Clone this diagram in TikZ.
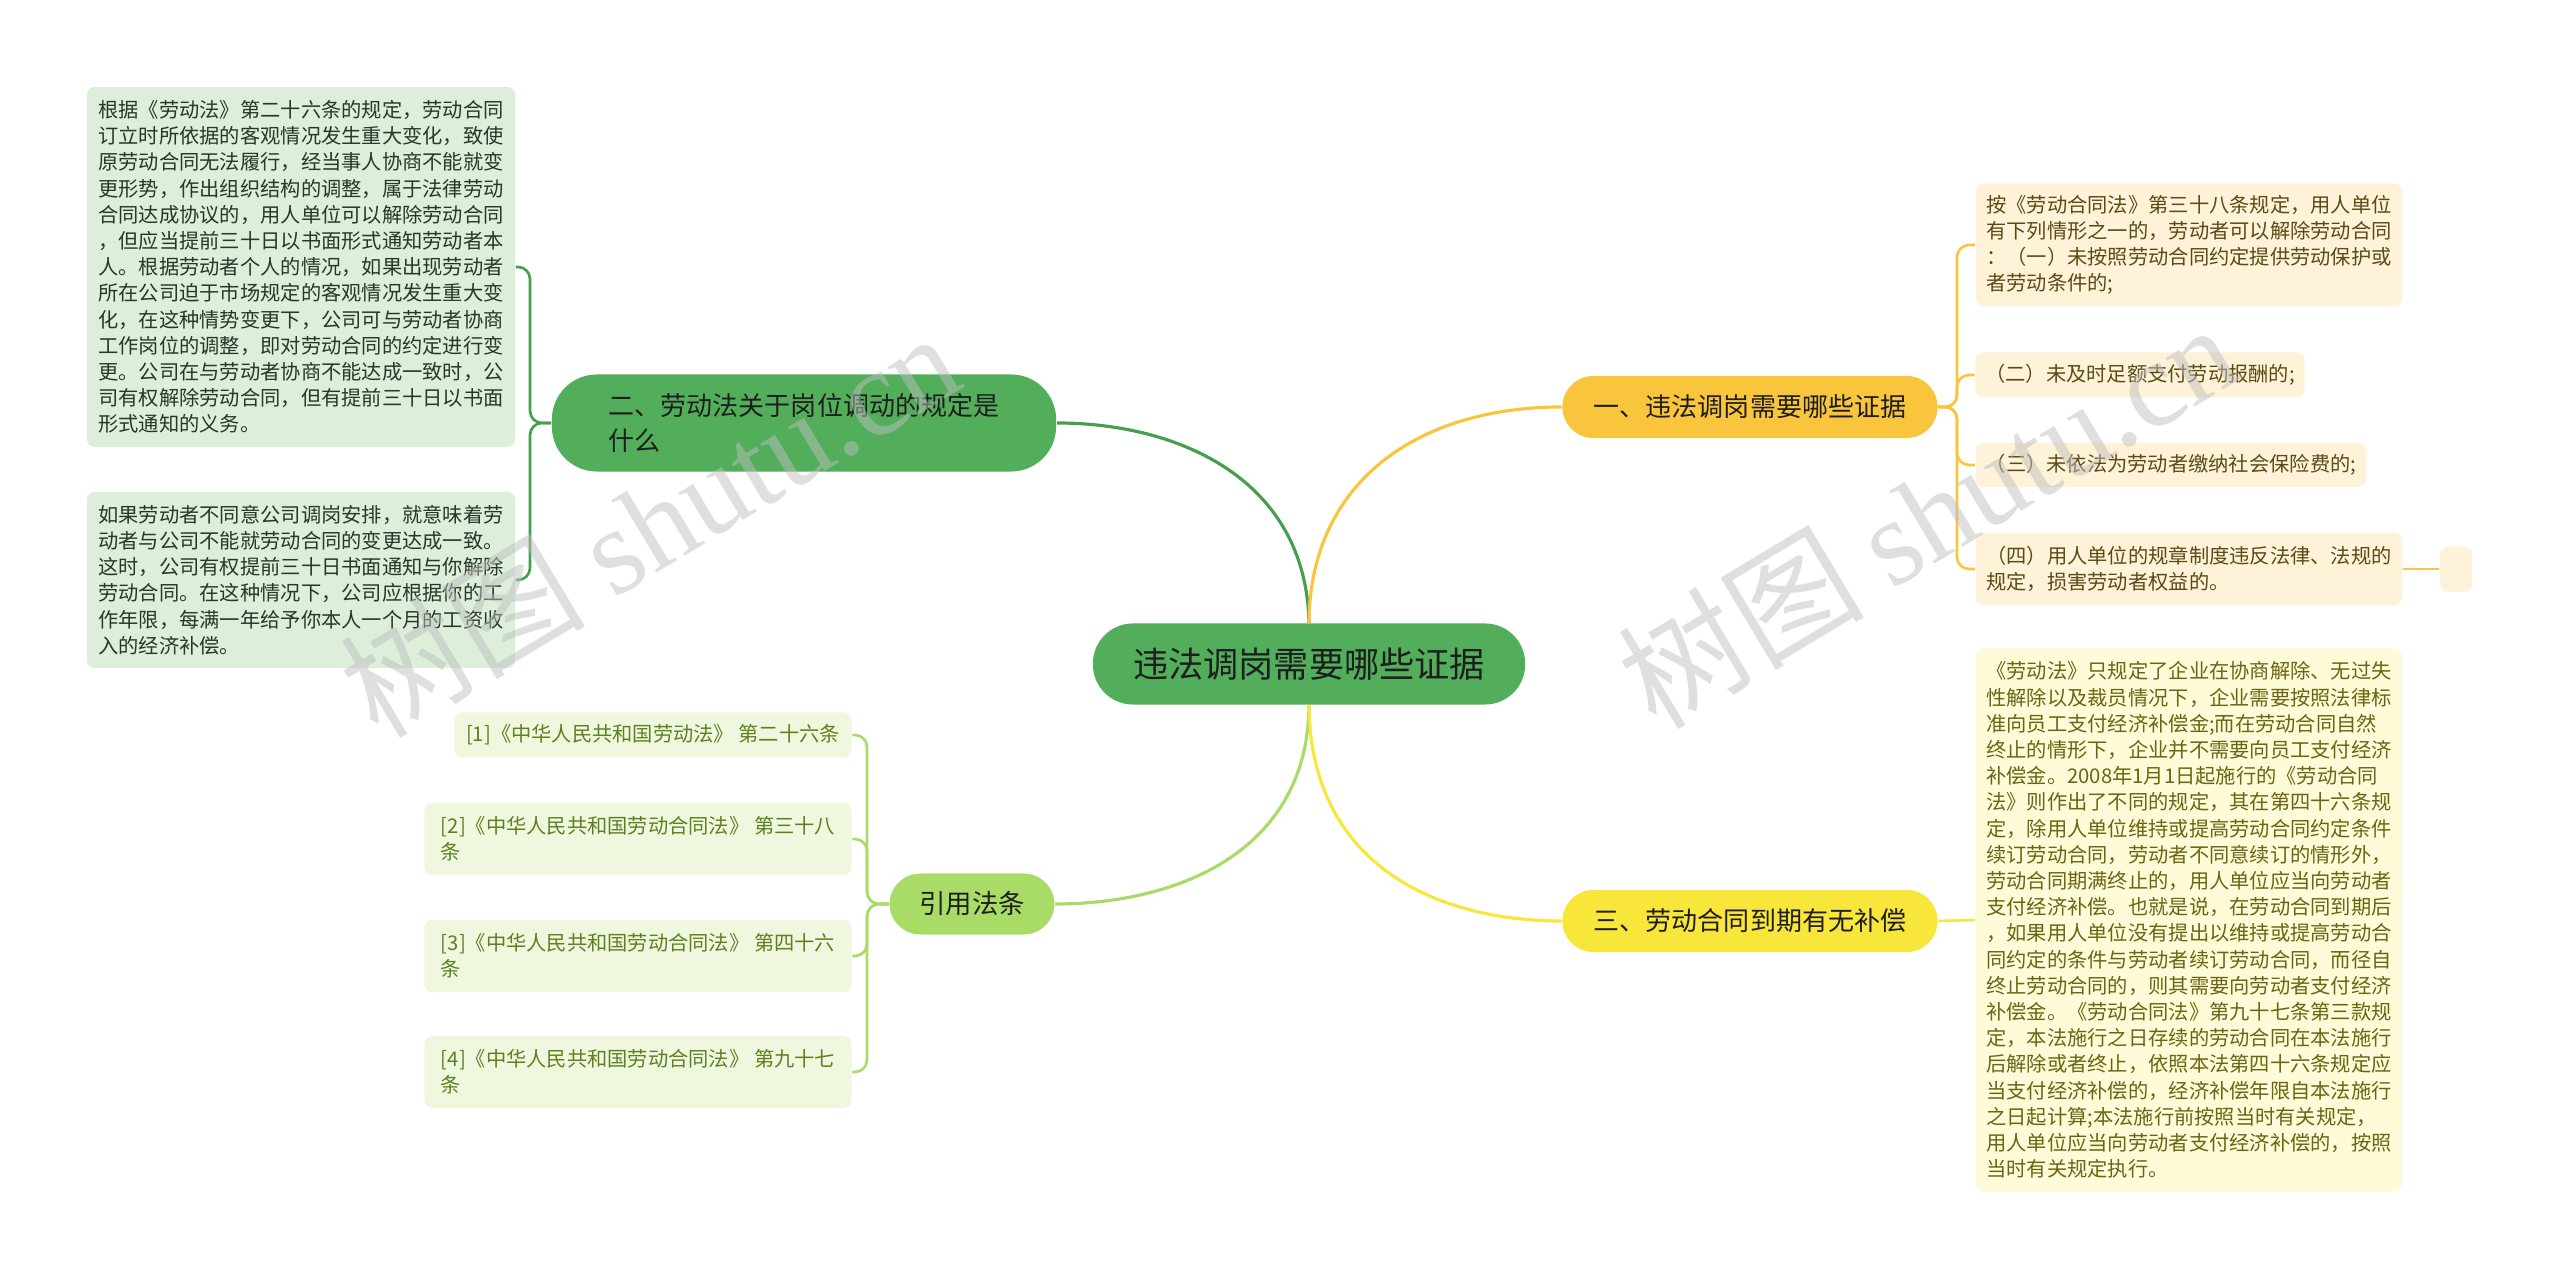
\documentclass[tikz,border=0pt]{standalone}
\usepackage{fontspec}
\setmainfont{Noto Sans CJK SC}
\newfontfamily\wmlatin{Liberation Serif}
\usepackage{xcolor}
\usetikzlibrary{positioning}

\definecolor{rootgreen}{HTML}{52AE5A}
\definecolor{linkgreen}{HTML}{45A04E}
\definecolor{citegreen}{HTML}{A9DC66}
\definecolor{orangey}{HTML}{F8C53D}
\definecolor{yellowy}{HTML}{F9E63B}
\definecolor{leafgreen}{HTML}{DDEEDA}
\definecolor{leaftext}{HTML}{26382A}
\definecolor{citeleaf}{HTML}{EFF7DF}
\definecolor{citetext}{HTML}{5E8020}
\definecolor{orangeleaf}{HTML}{FEF3D8}
\definecolor{orangetext}{HTML}{5B4A16}
\definecolor{yellowleaf}{HTML}{FEFBD9}
\definecolor{yellowtext}{HTML}{6B6512}
\definecolor{darktext}{HTML}{1E1E1E}

\newcommand{\leaffont}{\fontsize{5.76}{7.45}\selectfont}

\begin{document}
\begin{tikzpicture}[x=0.01cm, y=-0.01cm,
    rootbox/.style={fill=rootgreen, rounded corners=0.4cm, minimum width=4.32cm,
        minimum height=0.81cm, inner sep=0pt, text=darktext,
        font=\fontsize{10}{12}\selectfont},
    branchbox/.style={rounded corners=0.31cm, minimum height=0.62cm, inner sep=0pt,
        text=darktext, align=left, font=\fontsize{7.4}{9.7}\selectfont},
    leafbox/.style={rounded corners=0.08cm, inner sep=0pt, align=left, font=\leaffont},
    link/.style={line width=0.9pt},
    twig/.style={line width=0.75pt, rounded corners=0.12cm},
    wmark/.style={rotate=31, text=gray!50, opacity=0.5,
        font=\fontsize{35}{35}\selectfont}
]
    \useasboundingbox (0,0) rectangle (2560,1280);

    % Root and main branches
    \node[rootbox] (root) at (1309,664) {违法调岗需要哪些证据};
    \node[branchbox, fill=orangey, minimum width=3.75cm] (evid) at (1750,407) {一、违法调岗需要哪些证据};
    \node[branchbox, fill=rootgreen, minimum width=5.04cm, minimum height=0.97cm,
          rounded corners=0.45cm] (rule) at (804,423) {二、劳动法关于岗位调动的规定是\\什么};
    \node[branchbox, fill=yellowy, minimum width=3.75cm] (comp) at (1750,921) {三、劳动合同到期有无补偿};
    \node[branchbox, fill=citegreen, minimum width=1.65cm, minimum height=0.61cm,
          font=\fontsize{7.5}{9}\selectfont] (cite) at (972,904) {引用法条};

    % Leaves of branch one
    \node[leafbox, fill=orangeleaf, text=orangetext, minimum width=4.26cm, minimum height=1.23cm]
        (ev1) at (2189,245) {按《劳动合同法》第三十八条规定，用人单位\\
        有下列情形之一的，劳动者可以解除劳动合同\\
        ：（一）未按照劳动合同约定提供劳动保护或\\
        者劳动条件的;};
    \node[leafbox, fill=orangeleaf, text=orangetext, minimum width=3.29cm, minimum height=0.45cm]
        (ev2) at (2140,375) {（二）未及时足额支付劳动报酬的;};
    \node[leafbox, fill=orangeleaf, text=orangetext, minimum width=3.9cm, minimum height=0.44cm]
        (ev3) at (2171,465) {（三）未依法为劳动者缴纳社会保险费的;};
    \node[leafbox, fill=orangeleaf, text=orangetext, minimum width=4.26cm, minimum height=0.72cm]
        (ev4) at (2189,569) {（四）用人单位的规章制度违反法律、法规的\\
        规定，损害劳动者权益的。};
    \node[leafbox, fill=orangeleaf, minimum width=0.32cm, minimum height=0.45cm]
        (ev4a) at (2456,569) {};

    % Leaf of branch three
    \node[leafbox, fill=yellowleaf, text=yellowtext, minimum width=4.26cm, minimum height=5.43cm]
        (cp1) at (2189,920) {《劳动法》只规定了企业在协商解除、无过失\\
        性解除以及裁员情况下，企业需要按照法律标\\
        准向员工支付经济补偿金;而在劳动合同自然\\
        终止的情形下，企业并不需要向员工支付经济\\
        补偿金。2008年1月1日起施行的《劳动合同\\
        法》则作出了不同的规定，其在第四十六条规\\
        定，除用人单位维持或提高劳动合同约定条件\\
        续订劳动合同，劳动者不同意续订的情形外，\\
        劳动合同期满终止的，用人单位应当向劳动者\\
        支付经济补偿。也就是说，在劳动合同到期后\\
        ，如果用人单位没有提出以维持或提高劳动合\\
        同约定的条件与劳动者续订劳动合同，而径自\\
        终止劳动合同的，则其需要向劳动者支付经济\\
        补偿金。《劳动合同法》第九十七条第三款规\\
        定，本法施行之日存续的劳动合同在本法施行\\
        后解除或者终止，依照本法第四十六条规定应\\
        当支付经济补偿的，经济补偿年限自本法施行\\
        之日起计算;本法施行前按照当时有关规定，\\
        用人单位应当向劳动者支付经济补偿的，按照\\
        当时有关规定执行。};

    % Leaves of branch two
    \node[leafbox, fill=leafgreen, text=leaftext, minimum width=4.28cm, minimum height=3.6cm]
        (ru1) at (301,267) {根据《劳动法》第二十六条的规定，劳动合同\\
        订立时所依据的客观情况发生重大变化，致使\\
        原劳动合同无法履行，经当事人协商不能就变\\
        更形势，作出组织结构的调整，属于法律劳动\\
        合同达成协议的，用人单位可以解除劳动合同\\
        ，但应当提前三十日以书面形式通知劳动者本\\
        人。根据劳动者个人的情况，如果出现劳动者\\
        所在公司迫于市场规定的客观情况发生重大变\\
        化，在这种情势变更下，公司可与劳动者协商\\
        工作岗位的调整，即对劳动合同的约定进行变\\
        更。公司在与劳动者协商不能达成一致时，公\\
        司有权解除劳动合同，但有提前三十日以书面\\
        形式通知的义务。};
    \node[leafbox, fill=leafgreen, text=leaftext, minimum width=4.28cm, minimum height=1.76cm]
        (ru2) at (301,580) {如果劳动者不同意公司调岗安排，就意味着劳\\
        动者与公司不能就劳动合同的变更达成一致。\\
        这时，公司有权提前三十日书面通知与你解除\\
        劳动合同。在这种情况下，公司应根据你的工\\
        作年限，每满一年给予你本人一个月的工资收\\
        入的经济补偿。};

    % Cited articles
    \node[leafbox, fill=citeleaf, text=citetext, minimum width=3.97cm, minimum height=0.45cm]
        (ct1) at (653,735) {[1]《中华人民共和国劳动法》 第二十六条};
    \node[leafbox, fill=citeleaf, text=citetext, minimum width=4.27cm, minimum height=0.72cm]
        (ct2) at (638,839) {[2]《中华人民共和国劳动合同法》 第三十八\\条};
    \node[leafbox, fill=citeleaf, text=citetext, minimum width=4.27cm, minimum height=0.72cm]
        (ct3) at (638,956) {[3]《中华人民共和国劳动合同法》 第四十六\\条};
    \node[leafbox, fill=citeleaf, text=citetext, minimum width=4.27cm, minimum height=0.72cm]
        (ct4) at (638,1072) {[4]《中华人民共和国劳动合同法》 第九十七\\条};

    % Root links
    \draw[link, linkgreen] (root.north) .. controls (1306,480) and (1180,423) .. (rule.east);
    \draw[link, orangey] (root.north) .. controls (1310,480) and (1420,407) .. (evid.west);
    \draw[link, citegreen] (root.south) .. controls (1308,850) and (1180,904) .. (cite.east);
    \draw[link, yellowy] (root.south) .. controls (1310,860) and (1430,921) .. (comp.west);

    % Branch links
    \coordinate (evj) at (1957,407);
    \foreach \leaf in {ev1,ev2,ev3,ev4}
        \draw[twig, orangey] (evid.east) -- (evj) |- (\leaf.west);
    \draw[twig, orangey] (ev4.east) -- (ev4a.west);
    \draw[twig, yellowy] (comp.east) -- (cp1.west);
    \coordinate (ruj) at (530,423);
    \foreach \leaf in {ru1,ru2}
        \draw[twig, linkgreen] (rule.west) -- (ruj) |- (\leaf.east);
    \coordinate (ctj) at (867,904);
    \foreach \leaf in {ct1,ct2,ct3,ct4}
        \draw[twig, citegreen] (cite.west) -- (ctj) |- (\leaf.east);

    % Watermarks
    \node[wmark] (wmleft) at (649,523) {树图 {\wmlatin shutu.cn}};
    \node[wmark] (wmright) at (1927,514) {树图 {\wmlatin shutu.cn}};
\end{tikzpicture}
\end{document}
